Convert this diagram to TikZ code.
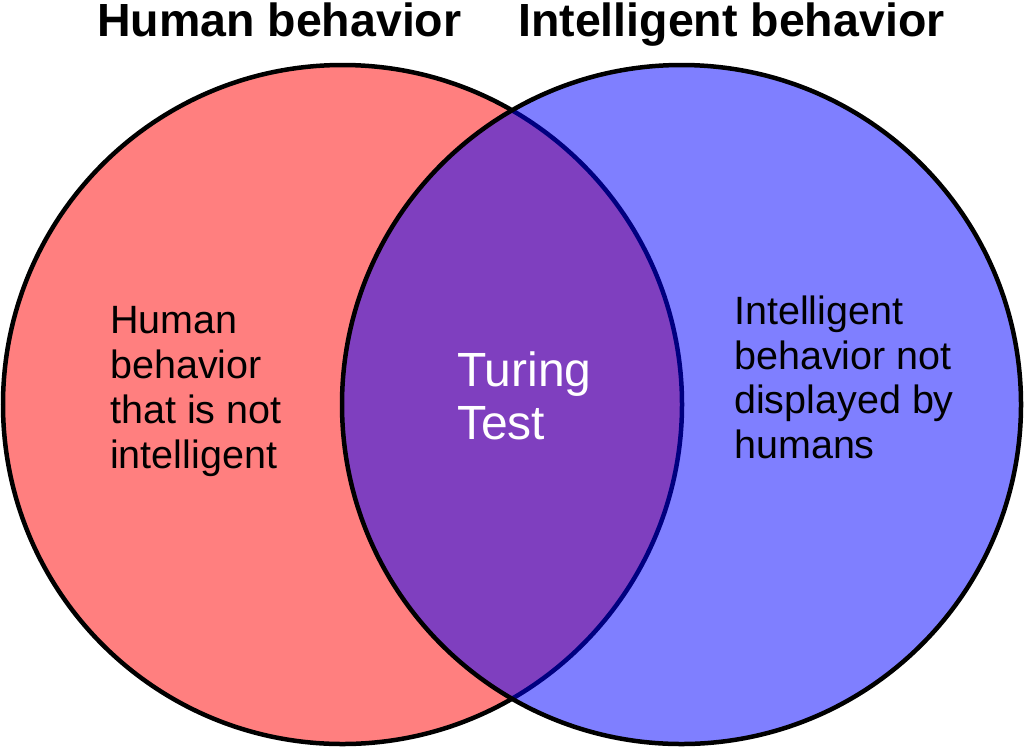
\documentclass[tikz,border=0pt]{standalone}
\usepackage{fontspec}
\setmainfont{Liberation Sans}
\begin{document}
\begin{tikzpicture}[x=1pt,y=-1pt,
  vennset/.style={circle, minimum size=679, inner sep=0, draw=black, line width=4.5, fill opacity=0.5, draw opacity=1},
  titletext/.style={font=\fontsize{46.5}{52}\selectfont\bfseries, anchor=base west, inner sep=0},
  bodytext/.style={font=\fontsize{39.5}{45}\selectfont, anchor=base west, inner sep=0},
  turingtext/.style={font=\fontsize{48}{53}\selectfont, anchor=base west, inner sep=0, text=white}]
\useasboundingbox (0,0) rectangle (1024,748);
\node[vennset, fill=red] (L) at (342.5,404.5) {};
\node[vennset, fill=blue] (R) at (681.5,404.5) {};
% titles
\node[titletext] (t1) at (97,36) {Human behavior};
\node[titletext] (t2) at (518,36) {Intelligent behavior};
% left text
\node[bodytext] (l1) at (110,333) {Human};
\node[bodytext] (l2) at (110,378) {behavior};
\node[bodytext] (l3) at (110,423) {that is not};
\node[bodytext] (l4) at (110,468) {intelligent};
% right text
\node[bodytext] (r1) at (734,324) {Intelligent};
\node[bodytext] (r2) at (734,369) {behavior not};
\node[bodytext] (r3) at (734,413.5) {displayed by};
\node[bodytext] (r4) at (734,458) {humans};
% centre text
\node[turingtext] (c1) at (457,386) {Turing};
\node[turingtext] (c2) at (457,439) {Test};
\end{tikzpicture}
\end{document}
